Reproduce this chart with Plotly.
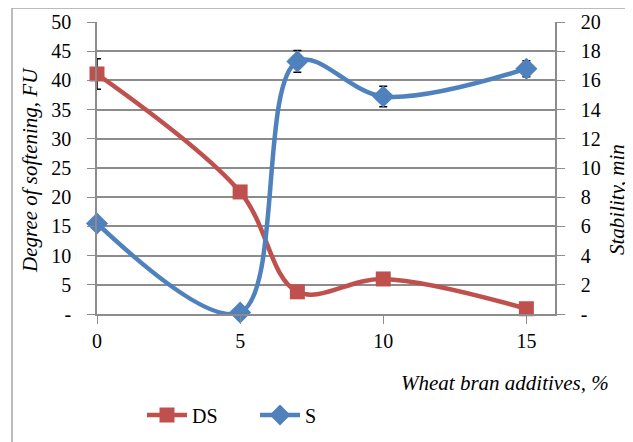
import plotly.graph_objects as go

x_vals = [0, 5, 7, 10, 15]
ds_vals = [41.1, 20.9, 3.8, 6.0, 0.9]
ds_err = [2.6, 0.6, 0.6, 0.6, 0.5]
s_vals = [6.2, 0.1, 17.3, 14.9, 16.8]
s_err = [0.2, 0.2, 0.75, 0.7, 0.55]

left_ticks = [0, 5, 10, 15, 20, 25, 30, 35, 40, 45, 50]
left_text = ["-"] + [str(v) for v in left_ticks[1:]]
right_ticks = [0, 2, 4, 6, 8, 10, 12, 14, 16, 18, 20]
right_text = ["-"] + [str(v) for v in right_ticks[1:]]
x_ticks = [0, 5, 10, 15]

RED = "#C0504D"
BLUE = "#4F81BD"
GRID = "#8C8C8C"
FONT = "Times New Roman"

# page body has an 8px margin, so screen coords = figure coords + 8
OFF = 8
W, H = 625, 434
L, T = 97 - OFF, 22 - OFF
Rx, By = 555 - OFF, 314 - OFF  # right edge / bottom edge of plot area in figure coords
R, B = W - Rx, H - By
pw, ph = Rx - L, By - T


def px(xs):
    return (xs - OFF - L) / pw


def py(ys):
    return (By - (ys - OFF)) / ph


fig = go.Figure()
fig.add_trace(go.Scatter(
    x=x_vals, y=ds_vals, name="DS", mode="lines+markers", cliponaxis=False,
    line=dict(color=RED, width=4.5, shape="spline", smoothing=1),
    marker=dict(symbol="square", size=15, color=RED),
    error_y=dict(type="data", array=ds_err, color="black", thickness=1.5, width=4),
))
fig.add_trace(go.Scatter(
    x=x_vals, y=s_vals, name="S", mode="lines+markers", yaxis="y2", cliponaxis=False,
    line=dict(color=BLUE, width=4.5, shape="spline", smoothing=1),
    marker=dict(symbol="diamond", size=17, color=BLUE),
    error_y=dict(type="data", array=s_err, color="black", thickness=1.5, width=4),
))

fig.update_layout(
    width=W, height=H,
    margin=dict(l=L, r=R, t=T, b=B, autoexpand=False),
    paper_bgcolor="white", plot_bgcolor="white",
    font=dict(family=FONT, size=18, color="black"),
    showlegend=True,
    legend=dict(orientation="h", x=px(142), y=py(415), xanchor="left", yanchor="middle",
                font=dict(family=FONT, size=20), itemwidth=40, tracegroupgap=0,
                entrywidth=58, entrywidthmode="pixels"),
    xaxis=dict(range=[0, 16], tickvals=x_ticks, ticks="outside", ticklen=8, tickcolor=GRID,
               showline=True, linecolor=GRID, linewidth=1.5, showgrid=False, zeroline=False,
               tickfont=dict(family=FONT, size=20), automargin=False),
    yaxis=dict(range=[0, 50], tickvals=left_ticks, ticktext=left_text, ticks="outside",
               ticklen=8, tickcolor=GRID, showline=True, linecolor=GRID, linewidth=1.5,
               showgrid=True, gridcolor=GRID, gridwidth=1.5, zeroline=False,
               tickfont=dict(family=FONT, size=20), ticklabelstandoff=12, automargin=False),
    yaxis2=dict(range=[0, 20], tickvals=right_ticks, ticktext=right_text, overlaying="y",
                side="right", ticks="outside", ticklen=8, tickcolor=GRID, showline=True,
                linecolor=GRID, linewidth=1.5, showgrid=False, zeroline=False,
                tickfont=dict(family=FONT, size=20), ticklabelstandoff=12, automargin=False),
    shapes=[dict(type="rect", xref="paper", yref="paper",
                 x0=px(12), x1=px(631), y0=py(460), y1=py(8),
                 line=dict(color="#A6A6A6", width=1.5), layer="below")],
    annotations=[
        dict(text="<i>Degree of softening, FU</i>", xref="paper", yref="paper", x=px(30), y=py(170),
             xanchor="center", yanchor="middle",
             textangle=-90, showarrow=False, font=dict(family=FONT, size=21)),
        dict(text="<i>Stability, min</i>", xref="paper", yref="paper", x=px(617), y=py(200),
             xanchor="center", yanchor="middle",
             textangle=-90, showarrow=False, font=dict(family=FONT, size=21)),
        dict(text="<i>Wheat bran additives, %</i>", xref="paper", yref="paper", x=px(611), y=py(383),
             xanchor="right", yanchor="middle", showarrow=False,
             font=dict(family=FONT, size=21)),
    ],
)

fig.write_html("out.html")
